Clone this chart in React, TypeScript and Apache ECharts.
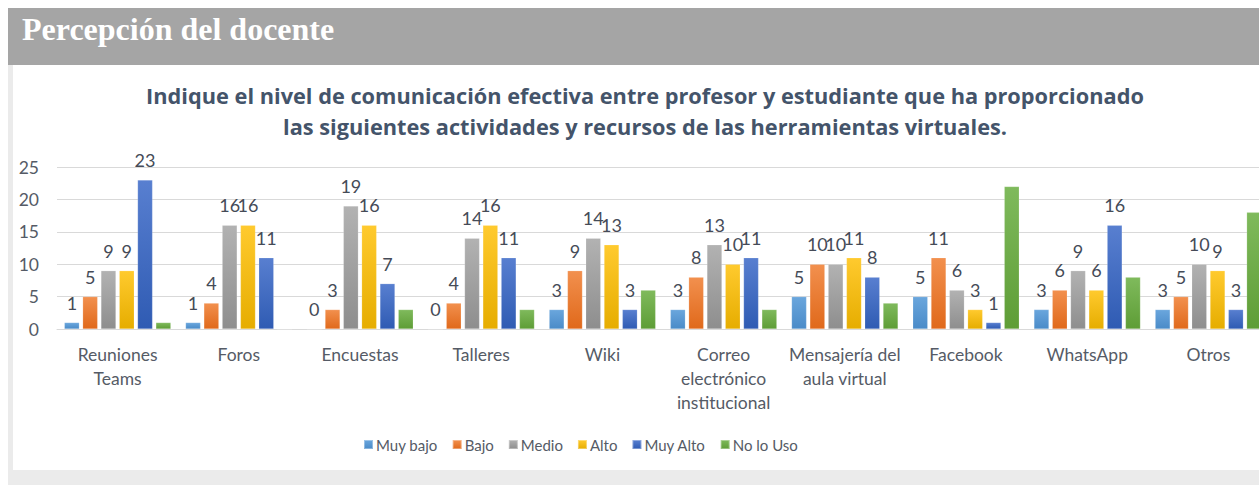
import React, { useEffect, useRef } from "react";
import * as echarts from "echarts";

const categories = [
  "Reuniones\nTeams",
  "Foros",
  "Encuestas",
  "Talleres",
  "Wiki",
  "Correo\nelectrónico\ninstitucional",
  "Mensajería del\naula virtual",
  "Facebook",
  "WhatsApp",
  "Otros",
];
const seriesNames = ["Muy bajo", "Bajo", "Medio", "Alto", "Muy Alto", "No lo Uso"];
const muyBajo = [1, 1, 0, 0, 3, 3, 5, 5, 3, 3];
const bajo = [5, 4, 3, 4, 9, 8, 10, 11, 6, 5];
const medio = [9, 16, 19, 14, 14, 13, 10, 6, 9, 10];
const alto = [9, 16, 16, 16, 13, 10, 11, 3, 6, 9];
const muyAlto = [23, 11, 7, 11, 3, 11, 8, 1, 16, 3];
const noLoUso = [1, 0, 3, 3, 6, 3, 4, 22, 8, 18];
const seriesData = [muyBajo, bajo, medio, alto, muyAlto, noLoUso];
const showLabels = [true, true, true, true, true, false];
const colorsTop = ["#6aa6dd", "#f2904e", "#b2b2b2", "#ffca2e", "#587fd0", "#7fba5c"];
const colorsBottom = ["#4a8bc8", "#e0691b", "#8e8e8e", "#e6ad00", "#2f5bb3", "#5e9d36"];
const titleLines = [
  "Indique el nivel de comunicación efectiva entre profesor y estudiante que ha proporcionado",
  "las siguientes actividades y recursos de las herramientas virtuales.",
];
const yMin = 0;
const yMax = 25;
const yInterval = 5;

const FONT = "Lato, 'Open Sans', sans-serif";
const TITLE_FONT = "'Open Sans', Lato, sans-serif";

export default function App() {
  const ref = useRef<HTMLDivElement>(null);
  useEffect(() => {
    if (!ref.current) return;
    const chart = echarts.init(ref.current, null, { renderer: "svg" });
    const option = {
      animation: false,
      backgroundColor: "#ffffff",
      textStyle: { fontFamily: FONT },
      title: {
        text: titleLines.join("\n"),
        left: "center",
        top: 10,
        textStyle: {
          fontFamily: TITLE_FONT,
          fontWeight: "bold",
          fontSize: 21.75,
          lineHeight: 31,
          color: "#44546a",
        },
      },
      legend: {
        data: seriesNames,
        left: 350,
        top: 372,
        padding: 0,
        icon: "rect",
        itemWidth: 9,
        itemHeight: 9,
        itemGap: 14,
        textStyle: { fontFamily: FONT, fontSize: 15, color: "#555b66", padding: [0, 0, 0, -2] },
      },
      grid: { left: 44, top: 102, width: 1212, height: 162, containLabel: false },
      xAxis: {
        type: "category",
        data: categories,
        axisLine: { lineStyle: { color: "#d9d9d9" } },
        axisTick: { show: false },
        axisLabel: {
          interval: 0,
          fontFamily: FONT,
          fontSize: 17.5,
          lineHeight: 24,
          color: "#555b66",
          margin: 13,
        },
      },
      yAxis: {
        type: "value",
        min: yMin,
        max: yMax,
        interval: yInterval,
        axisLine: { show: false },
        axisTick: { show: false },
        axisLabel: { fontFamily: FONT, fontSize: 17.5, color: "#555b66", margin: 18 },
        splitLine: { lineStyle: { color: "#d9d9d9" } },
      },
      series: seriesNames.map((name, i) => ({
        name,
        type: "bar",
        data: seriesData[i],
        barWidth: 15,
        barGap: "22%",
        itemStyle: {
          color: new echarts.graphic.LinearGradient(0, 0, 0, 1, [
            { offset: 0, color: colorsTop[i] },
            { offset: 1, color: colorsBottom[i] },
          ]),
          borderColor: "rgba(255,255,255,0.35)",
          borderWidth: 0.5,
        },
        label: {
          show: showLabels[i],
          position: "top",
          distance: 11,
          fontFamily: FONT,
          fontSize: 18,
          color: "#454b57",
        },
      })),
    };
    chart.setOption(option as any);
    return () => chart.dispose();
  }, []);

  return (
    <div
      style={{
        position: "fixed",
        left: 0,
        top: 0,
        width: 1259,
        height: 485,
        overflow: "hidden",
        background: "#ffffff",
      }}
    >
      <div style={{ position: "absolute", left: 8, top: 8, width: 1251, height: 57, background: "#a5a5a5" }} />
      <div
        style={{
          position: "absolute",
          left: 22,
          top: 13,
          fontFamily: "'Liberation Serif', 'Times New Roman', serif",
          fontWeight: "bold",
          fontSize: 32,
          lineHeight: "32px",
          color: "#ffffff",
          whiteSpace: "nowrap",
        }}
      >
        Percepción del docente
      </div>
      <div style={{ position: "absolute", left: 8, top: 65, width: 1251, height: 420, background: "#ebebeb" }} />
      <div ref={ref} style={{ position: "absolute", left: 13, top: 65, width: 1264, height: 405 }} />
    </div>
  );
}
